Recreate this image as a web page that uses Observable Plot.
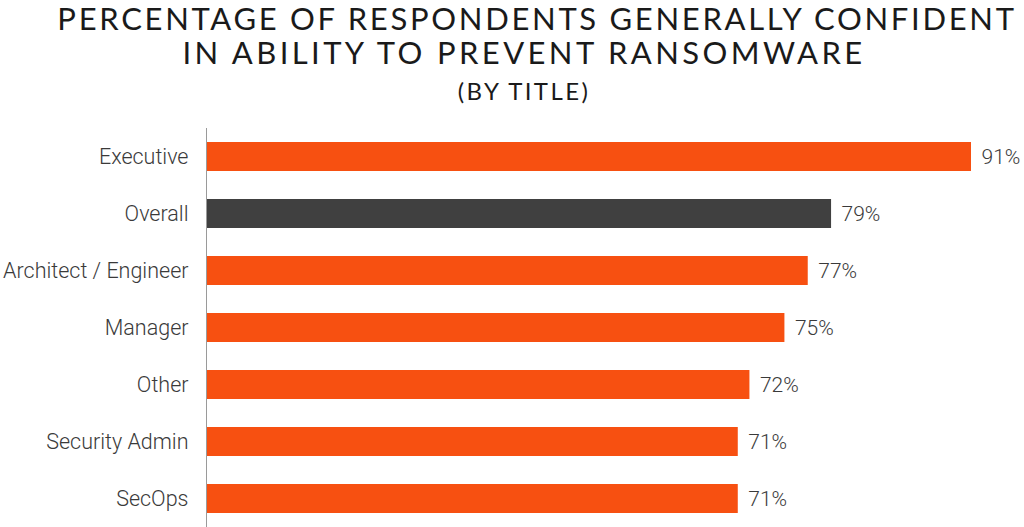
<!DOCTYPE html>
<html>
<head>
<meta charset="utf-8">
<script src="https://cdn.jsdelivr.net/npm/d3@7"></script>
<script src="https://cdn.jsdelivr.net/npm/@observablehq/plot@0.6"></script>
<style>
  html, body { margin: 0; padding: 0; background: #fff; }
  #wrap { width: 1024px; height: 527px; position: relative; overflow: hidden; }
  .title { position: absolute; left: 524px; transform: translateX(-50%); text-align: center; font-family: Lato, sans-serif; font-weight: 400; color: #1a1a1a; white-space: nowrap; }
  #t1 { top: 2px; font-size: 31px; line-height: 33.5px; }
  #t1 .l1 { letter-spacing: 2.7px; position: relative; left: 13px; }
  #t1 .l2 { letter-spacing: 3.4px; }
  #t3 { top: 77px; font-size: 24px; line-height: 28px; letter-spacing: 2.4px; }
  #chart { position: absolute; left: 0; top: 110px; }
</style>
</head>
<body>
<div id="wrap">
  <div class="title" id="t1"><span class="l1">PERCENTAGE OF RESPONDENTS GENERALLY CONFIDENT</span><br><span class="l2">IN ABILITY TO PREVENT RANSOMWARE</span></div>
  <div class="title" id="t3">(BY TITLE)</div>
  <div id="chart"></div>
</div>
<script>
const categories = ["Executive", "Overall", "Architect / Engineer", "Manager", "Other", "Security Admin", "SecOps"];
const values = [91, 79, 77, 75, 72, 71, 71];
const barColors = ["#F75011", "#404040", "#F75011", "#F75011", "#F75011", "#F75011", "#F75011"];
const xMin = 25.4;

const data = categories.map((c, i) => ({category: c, value: values[i], color: barColors[i]}));

const chart = Plot.plot({
  width: 1024,
  height: 417,
  marginLeft: 206,
  marginRight: 53,
  marginTop: 18,
  marginBottom: 0,
  style: {fontFamily: "Roboto, sans-serif", background: "transparent"},
  x: {domain: [xMin, 91], axis: null},
  y: {domain: categories, paddingInner: 0.49, paddingOuter: 0.245, label: null},
  marks: [
    Plot.axisY({tickSize: 0, tickPadding: 18, fontSize: 21.5, fontWeight: 300, fill: "#3a3a3a", label: null}),
    Plot.barX(data, {x1: () => xMin, x2: "value", y: "category", fill: "color"}),
    Plot.ruleX([xMin], {stroke: "#9a9a9a", strokeWidth: 1}),
    Plot.text(data, {x: "value", y: "category", text: d => d.value + "%", textAnchor: "start", dx: 10, fontSize: 21, fontWeight: 300, fill: "#3a3a3a"})
  ]
});
document.getElementById("chart").appendChild(chart);
</script>
</body>
</html>
